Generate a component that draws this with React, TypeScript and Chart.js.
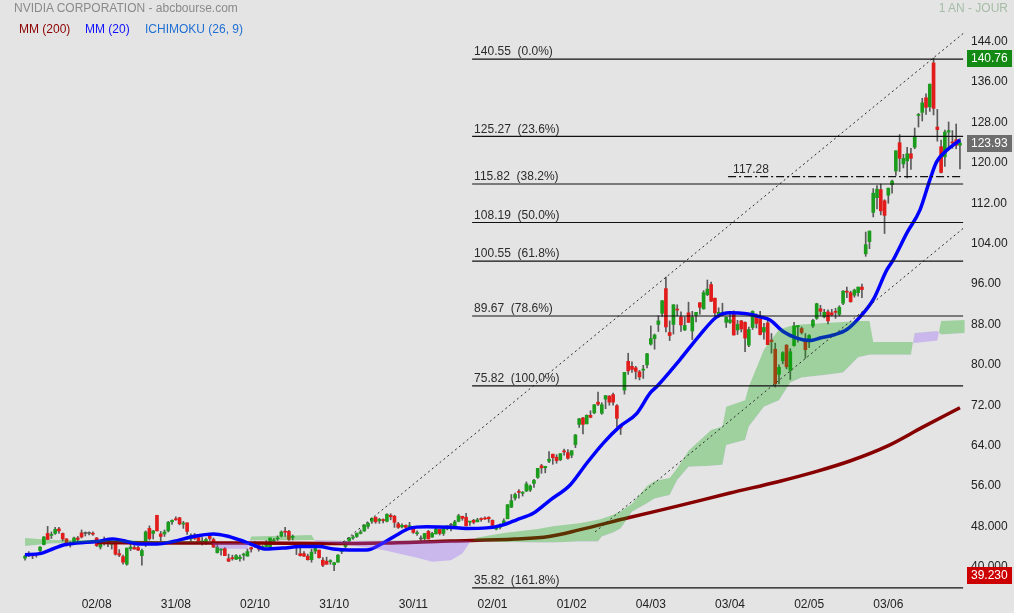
import React, { useEffect, useRef } from 'react';
import { Chart, registerables } from 'chart.js';

Chart.register(...registerables);

// ---------------- data ----------------
const xTickIdx = [19, 40, 61, 82, 103, 124, 145, 166, 187, 208, 229];
const xTickLabels = ['02/08', '31/08', '02/10', '31/10', '30/11', '02/01', '01/02', '04/03', '03/04', '02/05', '03/06'];
const yTickValues = [144, 136, 128, 120, 112, 104, 96, 88, 80, 72, 64, 56, 48, 40];
const yTickLabels = ['144.00', '136.00', '128.00', '120.00', '112.00', '104.00', '96.00', '88.00', '80.00', '72.00', '64.00', '56.00', '48.000', '40.000'];

const opens = [
  41.7, 42.2, 42.3, 42.4, 43.2, 44.4, 46.6, 46.2, 46.6, 47.5,
  46.6, 45.5, 44.7, 44.5, 45.7, 46.7, 46.7, 46.7, 46.6, 45.7,
  43.9, 45.1, 44.6, 44.5, 44.6, 42.6, 42.0, 40.5, 43.6, 43.8,
  43.8, 42.2, 44.4, 47.6, 46.6, 50.2, 46.5, 46.5, 47.1, 48.9,
  49.5, 49.7, 48.5, 48.7, 45.5, 46.3, 45.8, 44.7, 44.8, 46.1,
  45.4, 42.8, 43.3, 43.6, 41.6, 41.8, 41.5, 41.6, 42.3, 42.1,
  43.8, 44.0, 44.2, 43.9, 44.0, 43.8, 45.1, 45.5, 46.1, 47.0,
  47.0, 45.8, 44.1, 42.6, 42.6, 42.1, 41.4, 43.1, 43.3, 41.3,
  41.1, 41.0, 40.4, 40.9, 43.0, 44.0, 45.1, 45.7, 46.0, 46.6,
  47.1, 48.0, 49.0, 49.8, 49.1, 49.3, 49.0, 50.2, 50.0, 48.5,
  47.9, 48.2, 48.0, 48.0, 46.6, 45.6, 45.6, 47.0, 45.9, 46.5,
  47.4, 46.6, 47.5, 48.3, 48.1, 49.0, 50.0, 49.8, 48.9, 49.2,
  48.9, 49.5, 49.6, 49.8, 49.2, 47.5, 47.8, 48.5, 49.5, 51.8,
  53.6, 54.9, 54.6, 55.0, 55.2, 56.5, 57.7, 60.0, 59.6, 60.9,
  62.3, 61.7, 61.2, 62.9, 62.6, 62.1, 64.2, 68.2, 69.5, 68.3,
  70.0, 70.5, 72.6, 70.4, 73.2, 73.8, 74.1, 71.9, 68.0, 75.0,
  80.7, 79.7, 79.4, 78.6, 79.0, 80.0, 84.1, 85.2, 88.0, 90.2,
  95.1, 86.4, 88.0, 91.0, 89.5, 86.9, 90.3, 86.7, 89.8, 92.3,
  91.1, 93.9, 95.9, 93.2, 90.0, 90.2, 88.4, 88.4, 90.4, 86.9,
  88.7, 88.4, 83.9, 87.4, 89.7, 89.1, 86.5, 88.3, 84.9, 83.1,
  78.1, 80.8, 83.9, 78.9, 83.8, 87.5, 87.2, 85.1, 84.5, 87.7,
  89.2, 91.1, 89.5, 90.5, 90.3, 90.6, 90.0, 92.2, 94.6, 94.3,
  93.8, 94.3, 95.4, 102.0, 104.4, 110.2, 113.1, 114.7, 112.5, 113.6,
  115.7, 118.4, 124.0, 119.8, 120.4, 121.8, 123.1, 129.4, 130.0, 132.9,
  131.1, 139.8, 127.1, 123.2, 121.2, 126.1, 124.1, 124.6, 123.5,
];
const highs = [
  42.3, 43.0, 42.5, 42.5, 44.0, 46.0, 48.0, 46.9, 47.8, 47.8,
  46.7, 45.6, 45.0, 45.9, 46.0, 47.3, 46.9, 46.9, 46.9, 45.8,
  45.0, 45.9, 45.6, 44.9, 44.8, 43.4, 42.3, 43.7, 44.8, 44.6,
  44.1, 43.5, 47.1, 48.1, 47.2, 50.2, 47.0, 47.3, 49.0, 49.3,
  49.9, 49.8, 49.0, 48.7, 46.5, 46.6, 46.1, 45.8, 45.7, 46.6,
  45.7, 44.4, 43.6, 43.8, 42.5, 42.3, 42.4, 42.3, 42.7, 43.5,
  43.9, 45.0, 44.8, 44.2, 45.2, 45.7, 45.6, 46.1, 47.1, 47.8,
  47.2, 46.3, 44.6, 43.8, 43.0, 42.5, 43.5, 43.9, 43.3, 41.8,
  41.9, 41.4, 40.9, 42.4, 43.6, 45.0, 45.8, 46.2, 46.7, 47.3,
  48.3, 48.8, 49.7, 49.9, 49.6, 49.5, 50.5, 50.5, 50.2, 48.8,
  48.5, 48.3, 48.8, 48.0, 47.1, 46.1, 46.6, 47.2, 46.8, 47.6,
  47.4, 47.6, 48.1, 48.6, 49.2, 50.4, 50.0, 50.6, 49.0, 49.4,
  49.6, 49.7, 49.9, 49.9, 49.3, 48.2, 48.5, 49.5, 52.3, 54.3,
  54.6, 55.3, 54.9, 56.8, 56.2, 57.3, 59.5, 60.3, 59.9, 62.8,
  62.3, 62.2, 62.4, 63.3, 63.2, 63.0, 66.2, 69.4, 69.6, 70.1,
  70.9, 72.1, 74.6, 72.5, 73.9, 73.9, 74.4, 72.1, 68.2, 78.5,
  82.3, 80.6, 79.7, 78.9, 79.9, 82.3, 87.7, 86.1, 89.7, 92.7,
  97.4, 88.7, 91.9, 91.9, 90.5, 89.5, 92.4, 90.6, 90.4, 92.3,
  94.7, 96.8, 96.4, 93.2, 91.3, 92.2, 89.5, 90.4, 90.7, 88.8,
  88.8, 88.5, 87.5, 90.7, 90.1, 90.6, 88.2, 88.8, 86.2, 84.3,
  80.0, 82.6, 84.0, 83.2, 88.4, 87.7, 87.5, 86.2, 86.0, 89.0,
  92.2, 91.8, 91.0, 90.9, 91.0, 91.2, 91.7, 94.7, 95.4, 94.6,
  95.0, 95.4, 96.0, 106.3, 106.5, 114.9, 115.5, 115.8, 112.7, 115.0,
  116.6, 122.4, 125.6, 121.7, 123.1, 122.9, 126.9, 129.8, 132.8, 133.7,
  135.6, 140.76, 130.6, 124.5, 126.5, 128.1, 126.4, 127.7, 124.8,
];
const lows = [
  41.3, 42.0, 41.6, 41.9, 42.9, 44.3, 45.4, 45.6, 46.4, 46.6,
  45.1, 44.1, 43.9, 44.5, 44.9, 45.7, 46.1, 46.3, 46.2, 44.0,
  43.5, 44.3, 44.0, 43.5, 42.3, 42.0, 40.5, 40.3, 43.2, 43.5,
  43.2, 40.3, 44.0, 45.3, 45.5, 47.1, 45.1, 46.0, 46.9, 48.4,
  49.2, 48.3, 47.6, 46.4, 45.1, 45.4, 44.6, 44.3, 44.4, 45.2,
  43.8, 42.7, 42.3, 42.2, 41.0, 41.3, 41.4, 41.1, 41.3, 42.1,
  42.9, 43.8, 43.1, 43.3, 43.9, 43.7, 44.4, 45.2, 45.9, 46.0,
  45.2, 45.3, 42.4, 42.1, 42.0, 41.3, 40.9, 42.6, 41.7, 40.0,
  40.5, 40.5, 39.23, 40.9, 42.6, 43.7, 44.8, 45.4, 45.8, 46.5,
  47.0, 47.6, 48.6, 48.6, 48.6, 48.7, 48.9, 49.3, 47.8, 47.6,
  47.7, 47.1, 47.5, 46.6, 46.2, 45.0, 45.2, 45.5, 45.8, 46.5,
  46.3, 46.2, 47.3, 47.1, 47.9, 48.9, 49.2, 48.1, 48.2, 48.5,
  48.9, 49.0, 49.4, 48.8, 47.6, 47.3, 47.5, 48.3, 49.5, 51.7,
  53.2, 53.6, 54.0, 54.9, 54.9, 55.7, 57.5, 58.5, 58.6, 60.6,
  60.3, 60.5, 61.0, 62.1, 61.3, 61.6, 63.6, 67.6, 66.3, 68.3,
  69.5, 70.3, 71.9, 70.2, 71.3, 72.0, 72.0, 67.7, 66.2, 74.2,
  78.1, 78.5, 77.2, 77.0, 77.3, 79.4, 83.9, 83.1, 86.6, 89.6,
  86.5, 84.8, 86.1, 89.7, 86.6, 86.8, 88.4, 85.0, 88.5, 90.0,
  91.0, 93.7, 92.5, 89.3, 89.4, 89.8, 87.4, 88.2, 85.9, 86.0,
  86.5, 82.6, 83.6, 87.0, 87.3, 85.9, 85.1, 84.0, 82.3, 75.6,
  76.2, 80.2, 79.2, 77.1, 83.7, 84.5, 86.1, 81.3, 83.4, 87.4,
  89.0, 89.8, 89.3, 88.1, 89.7, 89.2, 89.7, 91.9, 93.3, 92.4,
  93.4, 93.6, 93.3, 101.5, 103.0, 109.3, 110.9, 109.7, 106.0, 112.0,
  114.0, 117.5, 118.3, 119.0, 117.0, 118.7, 122.8, 127.1, 128.3, 129.6,
  130.2, 129.5, 124.3, 118.0, 119.3, 122.6, 122.9, 122.8, 118.8,
];
const closes = [
  42.1, 42.5, 42.2, 42.4, 43.9, 45.9, 45.4, 46.4, 47.4, 47.1,
  45.5, 44.3, 44.6, 45.7, 45.4, 45.9, 46.7, 46.7, 46.5, 44.2,
  44.6, 44.7, 45.5, 44.6, 42.5, 42.3, 40.9, 43.7, 43.9, 43.5,
  43.3, 43.2, 46.9, 45.6, 47.1, 47.1, 46.0, 46.9, 48.8, 49.2,
  49.3, 48.5, 48.6, 47.0, 46.2, 45.6, 45.1, 45.1, 45.4, 45.6,
  43.9, 43.9, 43.5, 42.2, 41.1, 41.6, 42.2, 41.9, 42.5, 43.0,
  43.5, 44.8, 43.5, 44.0, 44.6, 45.7, 45.3, 45.7, 46.9, 46.9,
  45.4, 46.0, 43.9, 42.2, 42.1, 41.4, 42.9, 43.6, 41.8, 40.3,
  40.5, 41.2, 40.8, 42.3, 43.5, 45.0, 45.7, 45.9, 46.6, 46.9,
  48.3, 48.6, 49.6, 48.9, 49.4, 49.2, 50.4, 49.9, 48.8, 47.8,
  48.2, 47.8, 48.1, 46.8, 46.7, 45.6, 46.6, 45.5, 46.6, 47.5,
  46.6, 47.6, 48.1, 48.3, 48.9, 50.1, 49.6, 48.1, 49.0, 48.8,
  49.3, 49.4, 49.5, 49.5, 48.2, 47.6, 48.0, 49.1, 52.3, 53.1,
  54.3, 54.8, 54.7, 56.4, 56.0, 57.1, 59.5, 59.6, 59.9, 61.3,
  61.6, 61.0, 62.4, 62.8, 61.5, 63.0, 66.1, 69.3, 68.2, 70.0,
  69.6, 72.1, 72.2, 72.1, 73.9, 72.6, 72.6, 69.4, 67.5, 78.5,
  78.8, 79.1, 78.7, 77.6, 79.1, 82.2, 85.2, 85.9, 88.7, 92.7,
  87.5, 85.8, 91.9, 90.9, 87.9, 87.8, 88.4, 89.4, 90.4, 91.4,
  94.3, 95.0, 92.6, 90.3, 90.4, 90.4, 89.4, 88.9, 85.9, 88.0,
  87.1, 85.3, 87.0, 90.6, 88.2, 86.0, 87.4, 84.0, 84.6, 76.2,
  79.5, 82.4, 79.6, 82.6, 87.7, 87.8, 86.4, 83.0, 85.8, 88.8,
  92.1, 90.6, 90.4, 88.7, 89.9, 90.4, 91.4, 94.6, 94.4, 92.5,
  94.8, 95.4, 94.9, 103.8, 106.5, 114.0, 114.8, 110.5, 109.6, 115.0,
  116.4, 122.4, 120.9, 120.9, 121.8, 120.9, 125.2, 129.6, 131.9, 131.0,
  135.6, 130.8, 126.6, 118.1, 126.1, 126.4, 124.0, 123.5, 123.93,
];

// moving average 20
const ma20Idx = [0, 4, 6.6, 10.2, 13.7, 19, 23.4, 27, 30.5, 35, 39.3, 44.6, 50, 53.5, 57, 60.6, 64, 68.5, 73, 78, 81.8, 86, 90.6, 95, 98.6, 102, 106.5, 112.7, 117, 122.5, 126.9, 130.4, 134.8, 139.3, 144.6, 149, 153.4, 157.8, 162.3, 165.8, 167.6, 173.7, 179, 183.5, 187, 191.4, 195, 197.6, 201.1, 204.7, 208.2, 210.9, 214.4, 218, 221.5, 225, 228.6, 230.3, 233.9, 237.4, 240, 241.8, 244.5, 248];
const ma20Val = [42.4, 42.6, 43.3, 44.3, 44.7, 45.0, 45.5, 45.0, 44.5, 44.5, 45.0, 46.0, 46.5, 46.1, 45.3, 44.3, 43.5, 43.7, 44.0, 44.0, 43.5, 43.3, 43.3, 44.7, 46.3, 47.6, 47.9, 47.8, 47.6, 47.7, 48.3, 49.3, 50.6, 53.2, 56.2, 60.5, 64.5, 67.8, 70.4, 74.4, 75.7, 81.0, 85.9, 89.5, 90.3, 90.1, 89.5, 88.9, 86.6, 85.3, 84.8, 85.3, 85.9, 87.0, 89.5, 92.9, 98.8, 100.8, 106.1, 110.7, 116.6, 120.2, 122.5, 124.5];

// moving average 200
const ma200Idx = [19, 40, 60, 80, 95, 113, 130, 139, 147, 160, 173, 187, 200, 210, 219, 229, 238, 248];
const ma200Val = [44.8, 44.7, 44.7, 44.6, 44.7, 45.1, 45.5, 46.0, 47.3, 49.7, 52.0, 54.6, 56.9, 58.9, 61.0, 64.0, 67.6, 71.5];

// Ichimoku cloud (senkou spans)
const cloudIdx = [0, 7, 20, 35, 49, 51, 59, 60, 76, 77, 86, 95, 104, 108, 113, 116, 118, 120, 127, 136, 140, 147, 152, 153, 156, 158, 161, 165, 167, 171, 173, 176, 182, 185, 186, 191, 192, 196, 200, 203, 206, 212, 217, 221, 224, 225, 235, 236, 242, 243, 249.3];
const spanA = [45.7, 45.3, 45.3, 45.1, 45.0, 43.6, 43.5, 46.0, 46.3, 45.0, 44.3, 43.3, 41.8, 41.0, 41.3, 42.6, 44.8, 45.8, 46.7, 47.5, 48.0, 48.6, 49.3, 49.5, 50.3, 51.0, 52.5, 56.0, 57.0, 57.6, 59.5, 63.0, 67.1, 67.8, 71.7, 73.0, 75.7, 83.0, 87.0, 87.7, 88.0, 88.3, 88.5, 88.7, 88.7, 84.5, 84.5, 84.3, 84.8, 88.7, 88.9];
const spanB = [44.1, 44.6, 44.8, 44.8, 44.8, 44.7, 44.7, 45.2, 45.3, 45.3, 45.1, 45.2, 45.2, 45.2, 45.2, 45.2, 45.1, 45.0, 44.9, 44.8, 44.8, 45.0, 45.0, 46.0, 46.8, 47.6, 50.9, 52.6, 53.5, 54.2, 57.2, 59.8, 60.0, 60.2, 64.1, 65.1, 67.8, 71.7, 73.0, 76.5, 77.5, 78.0, 78.5, 81.5, 82.0, 82.0, 82.0, 86.3, 86.7, 86.0, 86.3];

// Fibonacci retracement
const fibLevels = [140.55, 125.27, 115.82, 108.19, 100.55, 89.67, 75.82, 35.82];
const fibPct = ['0.0%', '23.6%', '38.2%', '50.0%', '61.8%', '78.6%', '100.0%', '161.8%'];
const fibStartIdx = 118.6;
const pivotLevel = 117.28;
const pivotStartIdx = 186.5;

// trend channel (two points each: [index, value])
const channelUpper = [[84.35, 44.9], [249.3, 145.9]];
const channelLower = [[151.2, 46.9], [249.3, 107.3]];

// price tags on the axis
const tagValues = [140.76, 123.93, 39.23];
const tagTexts = ['140.76', '123.93', '39.230'];

// ---------------- style ----------------
const FONT = 'Arial, "Liberation Sans", sans-serif';
const BG = '#e4e4e4';
const GREEN = '#1c9c1c';
const RED = '#e21b1b';
const DOJI = '#5a5a5a';
const WICK = '#5a5a5a';
const tagColors = ['#138a13', '#6d6d6d', '#cc0000'];
const X_MIN = -1.86;
const X_MAX = 249.34;
const Y_MIN = 34.8;
const Y_MAX = 148.7;

export default function App() {
  const ref = useRef<HTMLCanvasElement>(null);

  useEffect(() => {
    if (!ref.current) return;
    const wicks = opens.map((_, i) => ({ x: i, y: [lows[i], highs[i]] }));
    const bodies = opens.map((o, i) => {
      const c = closes[i];
      let lo = Math.min(o, c);
      let hi = Math.max(o, c);
      if (hi - lo < 0.2) {
        const m = (hi + lo) / 2;
        lo = m - 0.1;
        hi = m + 0.1;
      }
      return { x: i, y: [lo, hi] };
    });
    const bodyColors = opens.map((o, i) => (closes[i] > o + 0.05 ? GREEN : closes[i] < o - 0.05 ? RED : DOJI));
    const ma20 = ma20Idx.map((x, i) => ({ x, y: ma20Val[i] }));
    const ma200 = ma200Idx.map((x, i) => ({ x, y: ma200Val[i] }));
    const sA = cloudIdx.map((x, i) => ({ x, y: spanA[i] }));
    const sB = cloudIdx.map((x, i) => ({ x, y: spanB[i] }));

    const lineBase = { type: 'line', pointRadius: 0, pointHoverRadius: 0, fill: false, tension: 0 };

    const datasets: any[] = [
      { type: 'bar', data: wicks, backgroundColor: WICK, barThickness: 1, grouped: false, order: 30 },
      { type: 'bar', data: bodies, backgroundColor: bodyColors, barThickness: 3, grouped: false, order: 29 },
      { ...lineBase, data: ma200, borderColor: '#870000', borderWidth: 3.5, cubicInterpolationMode: 'monotone', order: 28 },
      { ...lineBase, data: ma20, borderColor: '#0000ff', borderWidth: 3.5, cubicInterpolationMode: 'monotone', order: 27 },
      { ...lineBase, data: sB, borderColor: 'rgba(0,0,0,0)', borderWidth: 0, order: 26 },
    ];
    const spanBIndex = 4;
    datasets.push({
      ...lineBase,
      data: sA,
      borderColor: 'rgba(0,0,0,0)',
      borderWidth: 0,
      fill: { target: spanBIndex, above: 'rgba(0,165,0,0.3)', below: 'rgba(150,90,255,0.32)' },
      order: 25,
    });
    datasets.push({ ...lineBase, data: channelUpper.map(([x, y]) => ({ x, y })), borderColor: '#2a2a2a', borderWidth: 1, borderDash: [2, 3], order: 10 });
    datasets.push({ ...lineBase, data: channelLower.map(([x, y]) => ({ x, y })), borderColor: '#2a2a2a', borderWidth: 1, borderDash: [2, 3], order: 10 });
    fibLevels.forEach((lv) => {
      datasets.push({ ...lineBase, data: [{ x: fibStartIdx, y: lv }, { x: X_MAX - 0.5, y: lv }], borderColor: '#111', borderWidth: 1.2, order: 5 });
    });
    datasets.push({ ...lineBase, data: [{ x: pivotStartIdx, y: pivotLevel }, { x: X_MAX - 0.5, y: pivotLevel }], borderColor: '#111', borderWidth: 1.2, borderDash: [8, 3, 2, 3], order: 5 });

    const textPlugin = {
      id: 'annot',
      afterDatasetsDraw(chart: any) {
        const ctx = chart.ctx;
        const xs = chart.scales.x;
        const ys = chart.scales.y;
        ctx.save();
        ctx.font = `12px ${FONT}`;
        ctx.fillStyle = '#2b2b2b';
        ctx.textBaseline = 'bottom';
        ctx.textAlign = 'left';
        const fx = xs.getPixelForValue(fibStartIdx) + 2;
        fibLevels.forEach((lv, i) => {
          const y = ys.getPixelForValue(lv);
          ctx.fillText(`${lv.toFixed(2)}  (${fibPct[i]})`, fx, y - 1);
        });
        const px = xs.getPixelForValue(pivotStartIdx) + 5;
        ctx.fillText(pivotLevel.toFixed(2), px, ys.getPixelForValue(pivotLevel) - 1);
        ctx.restore();
      },
      afterDraw(chart: any) {
        const ctx = chart.ctx;
        const ys = chart.scales.y;
        const left = chart.chartArea.right + 2;
        ctx.save();
        ctx.font = `12px ${FONT}`;
        ctx.textBaseline = 'middle';
        ctx.textAlign = 'left';
        tagValues.forEach((v, i) => {
          let y = ys.getPixelForValue(v);
          if (i === 2) y += 5;
          ctx.fillStyle = tagColors[i];
          ctx.fillRect(left, Math.round(y - 8.5), 45, 17);
          ctx.fillStyle = '#ffffff';
          ctx.fillText(tagTexts[i], left + 4, y + 0.5);
        });
        ctx.restore();
      },
    };

    const chart = new Chart(ref.current, {
      type: 'bar',
      data: { datasets },
      options: {
        animation: false,
        responsive: false,
        events: [],
        layout: { padding: { left: 18, top: 18, right: 0, bottom: 0 } },
        plugins: { legend: { display: false }, tooltip: { enabled: false } },
        scales: {
          x: {
            type: 'linear',
            min: X_MIN,
            max: X_MAX,
            offset: false,
            grid: { display: false, drawTicks: false },
            border: { display: false },
            afterBuildTicks: (axis: any) => {
              axis.ticks = xTickIdx.map((v) => ({ value: v }));
            },
            afterFit: (axis: any) => {
              axis.height = 20;
            },
            ticks: {
              autoSkip: false,
              maxRotation: 0,
              padding: 4,
              color: '#222',
              font: { family: FONT, size: 12 },
              callback: (v: any) => {
                const k = xTickIdx.indexOf(Number(v));
                return k >= 0 ? xTickLabels[k] : '';
              },
            },
          },
          y: {
            type: 'linear',
            position: 'right',
            min: Y_MIN,
            max: Y_MAX,
            grid: { display: false, drawTicks: false },
            border: { display: false },
            afterBuildTicks: (axis: any) => {
              axis.ticks = yTickValues.map((v) => ({ value: v }));
            },
            afterFit: (axis: any) => {
              axis.width = 49;
            },
            ticks: {
              padding: 6,
              color: '#222',
              font: { family: FONT, size: 12 },
              callback: (v: any) => {
                const k = yTickValues.indexOf(Number(v));
                return k >= 0 ? yTickLabels[k] : '';
              },
            },
          },
        },
      } as any,
      plugins: [textPlugin],
    } as any);
    return () => chart.destroy();
  }, []);

  const txt: React.CSSProperties = { position: 'absolute', fontFamily: FONT, fontSize: 12, whiteSpace: 'nowrap', lineHeight: '14px' };
  return (
    <div style={{ position: 'absolute', left: 0, top: 0, width: 1014, height: 613, background: BG, overflow: 'hidden' }}>
      <canvas ref={ref} width={1014} height={613} style={{ position: 'absolute', left: 0, top: 0, display: 'block' }} />
      <div style={{ ...txt, left: 14, top: 1, color: '#8a8a8a' }}>NVIDIA CORPORATION - abcbourse.com</div>
      <div style={{ ...txt, right: 6, top: 1, color: '#a6bca6' }}>1 AN - JOUR</div>
      <div style={{ ...txt, left: 19, top: 22, color: '#8b0000' }}>MM (200)</div>
      <div style={{ ...txt, left: 85, top: 22, color: '#1010ff' }}>MM (20)</div>
      <div style={{ ...txt, left: 145, top: 22, color: '#1f6fd4' }}>ICHIMOKU (26, 9)</div>
    </div>
  );
}
